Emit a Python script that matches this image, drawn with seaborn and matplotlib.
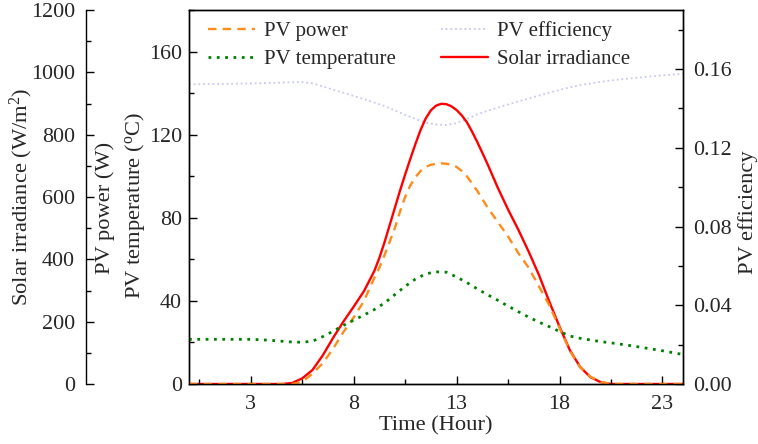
import numpy as np
import pandas as pd
import matplotlib
matplotlib.use("Agg")
import matplotlib.pyplot as plt
import seaborn as sns
from matplotlib.ticker import MultipleLocator, FormatStrFormatter

sns.set_style("ticks")
plt.rcParams['font.family'] = ['Liberation Serif', 'DejaVu Serif']
plt.rcParams['mathtext.fontset'] = 'custom'
plt.rcParams['mathtext.rm'] = 'Liberation Serif'
plt.rcParams['mathtext.it'] = 'Liberation Serif:italic'

# half-hour grid (temperature, efficiency)
hours = [0, 0.5, 1, 1.5, 2, 2.5, 3, 3.5, 4, 4.5, 5, 5.5, 6, 6.5, 7, 7.5, 8, 8.5,
         9, 9.5, 10, 10.5, 11, 11.5, 12, 12.5, 13, 13.5, 14, 14.5, 15, 15.5, 16,
         16.5, 17, 17.5, 18, 18.5, 19, 19.5, 20, 20.5, 21, 21.5, 22, 22.5, 23, 23.5, 24]

# finer grid around midday (irradiance, power)
fine_hours = [0, 0.5, 1, 1.5, 2, 2.5, 3, 3.5, 4, 4.5, 5, 5.5, 6, 6.5, 7, 7.5, 8, 8.5,
              9, 9.25, 9.5, 9.75, 10, 10.25, 10.5, 10.75, 11, 11.25, 11.5, 11.75, 12,
              12.25, 12.5, 12.75, 13, 13.25, 13.5, 13.75, 14, 14.25, 14.5, 14.75, 15,
              15.5, 16, 16.5, 17, 17.5, 18, 18.5, 19, 19.5, 20, 20.5, 21, 21.5, 22,
              22.5, 23, 23.5, 24]

irradiance = [0, 0, 0, 0, 0, 0, 0, 0, 0, 0, 3, 18, 45, 92, 148, 200, 248, 298,
              362, 405, 455, 510, 565, 620, 672, 722, 770, 815, 852, 878, 893,
              899, 898, 891, 879, 862, 840, 810, 777, 742, 706, 668, 630,
              560, 495, 425, 350, 265, 184, 109, 55, 22, 6, 0, 0, 0, 0, 0, 0, 0, 0]

pv_power = [0, 0, 0, 0, 0, 0, 0, 0, 0, 0, 0, 1, 5, 10, 17, 25, 32, 40,
            51, 56, 62, 68.5, 75, 83, 90, 95.5, 99.5, 102.5, 104.5, 105.5, 106,
            106.2, 106, 105.5, 104.5, 102.5, 100, 96.5, 93, 89, 85, 81.5, 78,
            71, 63, 56, 47, 38, 27, 16, 8, 3.5, 1, 0, 0, 0, 0, 0, 0, 0, 0]

pv_temp = [21.5, 21.5, 21.5, 21.5, 21.5, 21.5, 21.5, 21.3, 21.0, 20.6, 20.2, 20.1, 20.6,
           22.8, 25.4, 28.2, 30.7, 33.2, 35.8, 39.0, 43.0, 47.0, 50.5, 53.0, 54.0, 53.8,
           51.5, 48.8, 45.8, 43.0, 40.3, 37.5, 34.8, 32.2, 29.8, 27.6, 25.3, 23.1, 22.0,
           21.2, 20.4, 19.8, 19.1, 18.4, 17.6, 16.8, 16.0, 15.1, 14.2]

pv_eff = [0.1523, 0.1523, 0.1524, 0.1524, 0.1525, 0.1526, 0.1527, 0.1528, 0.1530, 0.1531,
          0.1533, 0.1534, 0.1527, 0.1512, 0.1495, 0.1480, 0.1463, 0.1447, 0.1430, 0.1412,
          0.1390, 0.1367, 0.1347, 0.1328, 0.1318, 0.1316, 0.1325, 0.1345, 0.1370, 0.1388,
          0.1404, 0.1420, 0.1436, 0.1450, 0.1465, 0.1480, 0.1494, 0.1507, 0.1518, 0.1527,
          0.1535, 0.1542, 0.1548, 0.1553, 0.1558, 0.1563, 0.1568, 0.1572, 0.1577]

x_ticks = [3, 8, 13, 18, 23]
x_minor = [0.5, 5.5, 10.5, 15.5, 20.5]

df_a = pd.DataFrame({"hour": hours, "temp": pv_temp, "eff": pv_eff})
df_b = pd.DataFrame({"hour": fine_hours, "irr": irradiance, "power": pv_power})

FS_T = 15.8   # tick labels
FS_L = 16.2   # axis labels
FS_G = 15     # legend
W, H = 758, 444
fig = plt.figure(figsize=(W / 100, H / 100), dpi=100)
L, R, B, T = 189, 683, 384, 10
ax = fig.add_axes([L / W, 1 - B / H, (R - L) / W, (B - T) / H])
ax_eff = ax.twinx()
ax_irr = ax.twinx()

c_orange = '#ff8c1a'
c_green = '#008000'
c_red = '#ff0000'
c_lav = '#c8c8f4'

sns.lineplot(data=df_b, x="hour", y="power", ax=ax, color=c_orange, lw=1.7,
             linestyle=(0, (3.6, 2.6)), legend=False)
sns.lineplot(data=df_a, x="hour", y="temp", ax=ax, color=c_green, lw=2.0,
             linestyle=(0, (1.0, 2.0)), legend=False)
sns.lineplot(data=df_a, x="hour", y="eff", ax=ax_eff, color=c_lav, lw=1.3,
             linestyle=(0, (1.0, 1.6)), legend=False)
sns.lineplot(data=df_b, x="hour", y="irr", ax=ax_irr, color=c_red, lw=1.7,
             linestyle='-', legend=False)

ax.set_xlim(0, 24)
ax.set_ylim(0, 180)
ax_eff.set_ylim(0, 0.19)
ax_irr.set_ylim(0, 1200)

ax.set_xticks(x_ticks)
ax.set_xticks(x_minor, minor=True)
ax.yaxis.set_major_locator(MultipleLocator(40))
ax.yaxis.set_minor_locator(MultipleLocator(20))
ax_eff.yaxis.set_major_locator(MultipleLocator(0.04))
ax_eff.yaxis.set_minor_locator(MultipleLocator(0.02))
ax_eff.yaxis.set_major_formatter(FormatStrFormatter('%.2f'))
ax_irr.yaxis.set_major_locator(MultipleLocator(200))
ax_irr.yaxis.set_minor_locator(MultipleLocator(100))

ax_irr.spines['left'].set_position(('axes', (86 - L) / (R - L)))
ax_irr.spines['left'].set_visible(True)
ax_irr.spines['right'].set_visible(False)
ax_irr.spines['top'].set_visible(False)
ax_irr.spines['bottom'].set_visible(False)
ax_irr.yaxis.set_ticks_position('left')
ax_irr.yaxis.set_label_position('left')

for a in (ax, ax_eff, ax_irr):
    a.tick_params(which='both', direction='in', labelsize=FS_T, width=1.0,
                  color='black', pad=6)
    a.tick_params(which='major', length=6)
    a.tick_params(which='minor', length=3.5)
    for s in a.spines.values():
        s.set_linewidth(1.0)
        s.set_color('black')
ax.tick_params(axis='x', which='both', top=False, pad=8)
ax.tick_params(axis='y', which='both', right=False, pad=5)
ax_eff.tick_params(axis='y', pad=7)
ax_irr.tick_params(axis='y', pad=8)

ax.set_xlabel("")
ax.set_ylabel("")
ax_eff.set_ylabel("")
ax_irr.set_ylabel("")

fig.text(436 / W, 1 - 426 / H, "Time (Hour)", fontsize=FS_L, ha='center', va='center')
fig.text(21 / W, 1 - 197 / H, "Solar irradiance (W/m$^2$)", rotation=90,
         fontsize=FS_L, ha='center', va='center')
fig.text(105 / W, 1 - 208 / H, "PV power (W)", rotation=90, fontsize=FS_L,
         ha='center', va='center')
fig.text(135 / W, 1 - 206 / H, "PV temperature ($^{\\rm o}$C)", rotation=90,
         fontsize=FS_L, ha='center', va='center')
fig.text(748 / W, 1 - 212 / H, "PV efficiency", rotation=90, fontsize=FS_L,
         ha='center', va='center')

handles = ax.get_lines() + ax_eff.get_lines() + ax_irr.get_lines()
labels = ["PV power", "PV temperature", "PV efficiency", "Solar irradiance"]
ax.legend(handles, labels, loc='upper left', ncol=2, frameon=False,
          fontsize=FS_G, bbox_to_anchor=((208 - L) / (R - L), 1 - 11 / (B - T)),
          borderpad=0, borderaxespad=0, handlelength=2.25, handletextpad=0.45,
          columnspacing=2.15, labelspacing=0.4)
ax_eff.set_zorder(0)
ax_irr.set_zorder(1)
ax.set_zorder(2)
ax.patch.set_visible(False)
ax_irr.patch.set_visible(False)

fig.savefig("out.png", dpi=100)
